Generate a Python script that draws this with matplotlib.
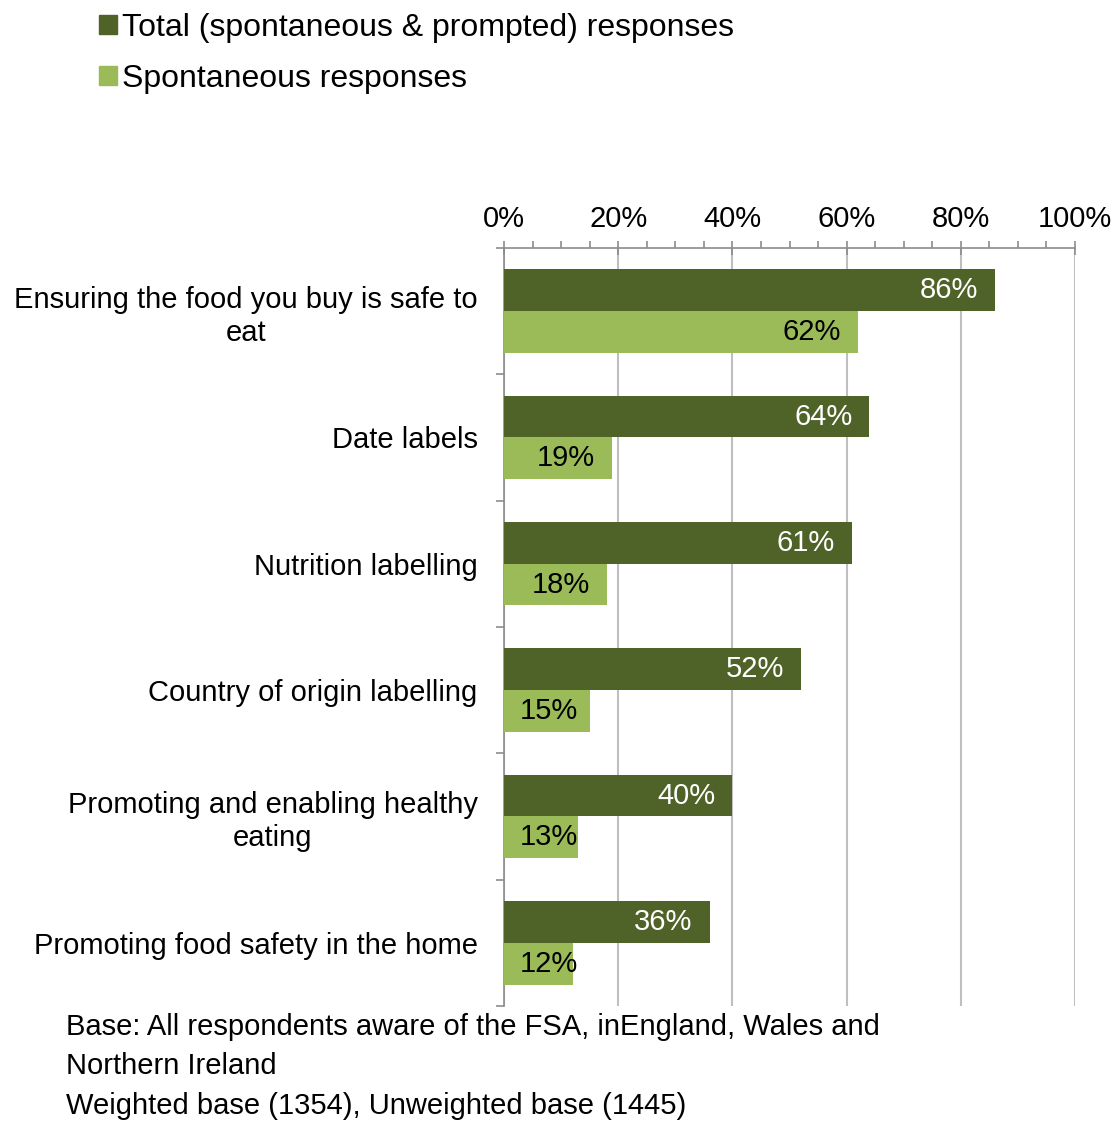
import matplotlib.pyplot as plt
from matplotlib.patches import Patch

plt.rcParams['font.family'] = ['Liberation Sans', 'DejaVu Sans']

categories = [
    "Ensuring the food you buy is safe to\neat",
    "Date labels",
    "Nutrition labelling",
    "Country of origin labelling",
    "Promoting and enabling healthy\neating",
    "Promoting food safety in the home",
]
total = [86, 64, 61, 52, 40, 36]
spontaneous = [62, 19, 18, 15, 13, 12]
series_labels = ["Total (spontaneous & prompted) responses", "Spontaneous responses"]
xticks = [0, 20, 40, 60, 80, 100]

dark = "#4F6228"
light = "#9BBB59"
axis_grey = "#8C8C8C"
grid_grey = "#BFBFBF"
fs = 21

fig = plt.figure(figsize=(11.16, 11.22), dpi=100)
ax = fig.add_axes([0.4516, 0.1034, 0.5117, 0.6756])

n = len(categories)
ys = list(range(n))
h = 0.33
ax.barh([y - h / 2 for y in ys], total, height=h, color=dark, zorder=3)
ax.barh([y + h / 2 for y in ys], spontaneous, height=h, color=light, zorder=3)

# value labels sit inside the bar end, but never closer to 0 than the short bars allow
for y, v in zip(ys, total):
    ax.text(max(v - 3, 12.9), y - h / 2, f"{v}%", ha="right", va="center",
            color="white", fontsize=fs, zorder=4)
for y, v in zip(ys, spontaneous):
    ax.text(max(v - 3, 12.9), y + h / 2, f"{v}%", ha="right", va="center",
            color="black", fontsize=fs, zorder=4)

ax.set_xlim(0, 100)
ax.set_ylim(n - 0.5, -0.5)

# x axis on top
ax.xaxis.tick_top()
ax.set_xticks(xticks)
ax.set_xticklabels([f"{t}%" for t in xticks], fontsize=fs)
ax.set_xticks(range(0, 101, 5), minor=True)
ax.tick_params(axis="x", which="major", direction="inout", length=10, width=1.2,
               color=axis_grey, pad=6)
ax.tick_params(axis="x", which="minor", direction="out", length=5, width=1.2,
               color=axis_grey)
ax.xaxis.grid(True, which="major", color=grid_grey, linewidth=1.5, zorder=0)

# y axis: labels at group centres, ticks at group boundaries
ax.set_yticks(ys)
ax.set_yticklabels(categories, fontsize=fs, multialignment="center")
ax.tick_params(axis="y", which="major", length=0, pad=19)
ax.set_yticks([y + 0.5 for y in range(-1, n)], minor=True)
ax.tick_params(axis="y", which="minor", direction="out", length=6, width=1.2,
               color=axis_grey)

for side in ["bottom", "right"]:
    ax.spines[side].set_visible(False)
for side in ["top", "left"]:
    ax.spines[side].set_color(axis_grey)
    ax.spines[side].set_linewidth(1.2)

handles = [Patch(color=dark), Patch(color=light)]
fig.legend(handles, series_labels, loc="upper left", bbox_to_anchor=(0.0887, 0.9888),
           frameon=False, fontsize=23, handlelength=0.56, handleheight=0.56,
           handletextpad=0.16, labelspacing=0.66, borderaxespad=0, borderpad=0)

notes = [
    "Base: All respondents aware of the FSA, inEngland, Wales and",
    "Northern Ireland",
    "Weighted base (1354), Unweighted base (1445)",
]
for i, line in enumerate(notes):
    fig.text(0.059, 1 - (1027 + 39.5 * i) / 1122, line, fontsize=fs, va="center", ha="left")

fig.savefig("out.png", dpi=100)
